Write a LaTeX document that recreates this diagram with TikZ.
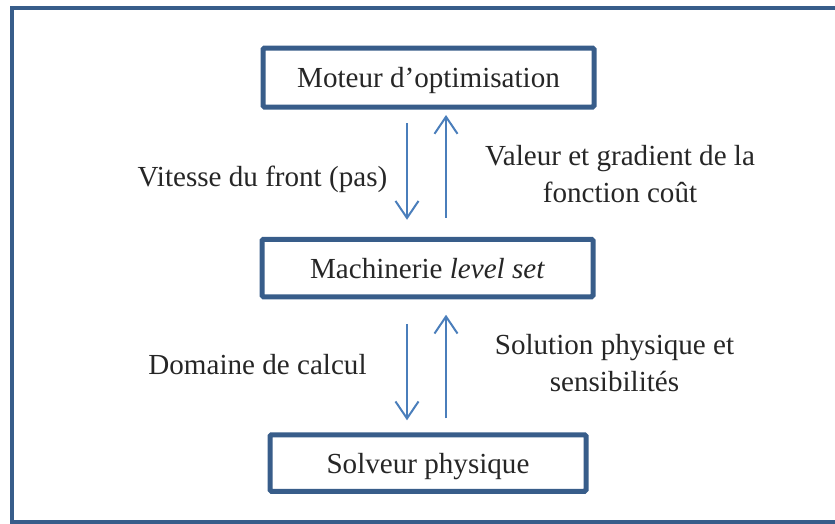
\documentclass[tikz,border=0pt]{standalone}
\usepackage{fontspec}
\setmainfont{Liberation Serif}
\usetikzlibrary{arrows.meta}
\definecolor{boxblue}{HTML}{385D8A}
\definecolor{arrblue}{HTML}{4A7EBB}
\begin{document}
\begin{tikzpicture}[x=1pt,y=-1pt,
  every node/.style={font=\fontsize{29.1}{37}\selectfont, text=black!85},
  box/.style={draw=boxblue, line width=5pt, rounded corners=1.5pt, inner sep=0pt,
    text height=22pt, text depth=2pt, fill=white},
  arr/.style={draw=arrblue, line width=2pt, -{Straight Barb[length=17pt,width=23pt,line width=2pt]}},
  lab/.style={anchor=base, align=center, inner sep=0pt}]
\useasboundingbox (0,0) rectangle (835,523);
\draw[boxblue, line width=4.5pt] (12,8) rectangle (860,522);
\node[box, minimum width=331pt, minimum height=59pt] (top) at (428.5,77.5) {Moteur d’optimisation};
\node[box, minimum width=331pt, minimum height=57.5pt] (mid) at (427.5,268) {Machinerie \textit{level set}};
\node[box, minimum width=316pt, minimum height=56.5pt] (bot) at (428,463) {Solveur physique};
\draw[arr, shorten <=13.5pt, shorten >=17pt] ([xshift=-21.5pt]top.south) -- ([xshift=-20.5pt]mid.north);
\draw[arr, shorten <=19pt, shorten >=5.5pt] ([xshift=18.5pt]mid.north) -- ([xshift=17.5pt]top.south);
\draw[arr, shorten <=24.5pt, shorten >=12pt] ([xshift=-20.5pt]mid.south) -- ([xshift=-21pt]bot.north);
\draw[arr, shorten <=14pt, shorten >=15.5pt] ([xshift=18pt]bot.north) -- ([xshift=18.5pt]mid.south);
\node[lab] (l1) at (262.5,186) {Vitesse du front (pas)};
\node[lab] (l2) at (620,202) {Valeur et gradient de la\\fonction coût};
\node[lab] (l3) at (257.5,374) {Domaine de calcul};
\node[lab] (l4) at (614.5,391) {Solution physique et\\sensibilités};
\end{tikzpicture}
\end{document}
